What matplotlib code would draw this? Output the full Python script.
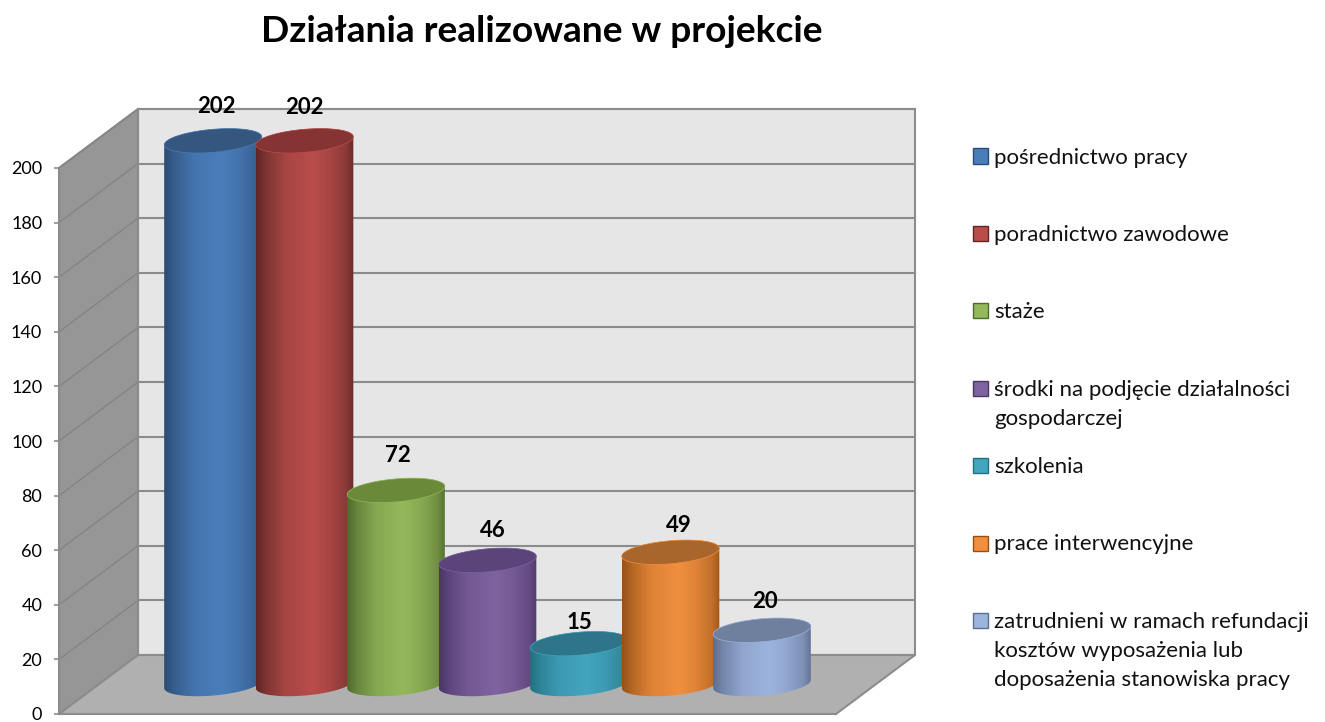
import numpy as np
import matplotlib
matplotlib.use('Agg')
import matplotlib.pyplot as plt
from matplotlib.colors import to_rgb
from matplotlib.patches import Polygon, Rectangle
from matplotlib.transforms import ScaledTranslation

plt.rcParams['font.family'] = ['Lato', 'DejaVu Sans']

# data
title = 'Działania realizowane w projekcie'
categories = ['pośrednictwo pracy', 'poradnictwo zawodowe', 'staże',
              'środki na podjęcie działalności\ngospodarczej', 'szkolenia',
              'prace interwencyjne',
              'zatrudnieni w ramach refundacji\nkosztów wyposażenia lub\ndoposażenia stanowiska pracy']
values = [202, 202, 72, 46, 15, 49, 20]
y_ticks = list(range(0, 201, 20))

# colours: centre of the cylinder, its dark edge, its top
body_colors = ['#4A7EBB', '#B84D4A', '#94B85A', '#7F62A0', '#43A5C0', '#F08F3F', '#9DB4DE']
edge_colors = ['#2B4B72', '#5F2625', '#4F6A2C', '#4A3566', '#22707F', '#965015', '#5D6D8E']
top_colors = ['#35577F', '#853433', '#6A8A3A', '#5B447A', '#2E7589', '#A8662C', '#6F7F9E']

# label nudges in pixels (x, y above the top of the cylinder)
label_dx = [3, 0, 2, 5, 0, 8, 3]
label_dy = [34, 33, 35, 30, 21, 27, 29]

W, H = 1325, 722
PX_X = 91.5    # pixels per category
PX_Y = 2.73    # pixels per value unit
X0 = 171.5     # pixel of x=0 on the front plane
Y0 = 714       # pixel of value 0 on the front plane
DEPTH_X = 79 / PX_X
DEPTH_Y = 59 / PX_Y
X_LEFT = (59 - X0) / PX_X
X_RIGHT = (836 - X0) / PX_X
Y_TOP = 200

fig = plt.figure(figsize=(W / 100, H / 100), dpi=100, facecolor='white')
ax = fig.add_axes([59 / W, 0, (W - 59) / W, 1])
ax.set_xlim(X_LEFT, (W - X0) / PX_X)
ax.set_ylim(-(H - Y0) / PX_Y, Y0 / PX_Y)
ax.patch.set_visible(False)


def deep(x, v, d):
    return x + d * DEPTH_X, v + d * DEPTH_Y


# walls and floor
grid_c = '#8C8C8C'
ax.add_patch(Polygon([deep(X_LEFT, 0, 1), deep(X_RIGHT, 0, 1), deep(X_RIGHT, Y_TOP, 1), deep(X_LEFT, Y_TOP, 1)],
                     fc='#E6E6E6', ec=grid_c, lw=1.5, zorder=1))
ax.add_patch(Polygon([deep(X_LEFT, 0, 0), deep(X_LEFT, 0, 1), deep(X_LEFT, Y_TOP, 1), deep(X_LEFT, Y_TOP, 0)],
                     fc='#969696', ec=grid_c, lw=1.5, zorder=1))
ax.add_patch(Polygon([deep(X_LEFT, 0, 0), deep(X_RIGHT, 0, 0), deep(X_RIGHT, 0, 1), deep(X_LEFT, 0, 1)],
                     fc='#B0B0B0', ec='none', zorder=1))
for v in y_ticks[1:]:
    a = deep(X_LEFT, v, 0)
    b = deep(X_LEFT, v, 1)
    c = deep(X_RIGHT, v, 1)
    ax.plot([a[0], b[0]], [a[1], b[1]], color='#858585', lw=1.1, zorder=2)
    ax.plot([b[0], c[0]], [b[1], c[1]], color=grid_c, lw=1.5, zorder=2)
a = deep(X_LEFT, 0, 0)
b = deep(X_LEFT, 0, 1)
c = deep(X_RIGHT, 0, 1)
d = deep(X_RIGHT, 0, 0)
ax.plot([a[0], b[0], c[0], d[0]], [a[1], b[1], c[1], d[1]], color=grid_c, lw=1.5, zorder=2)

# cylinders
R_X, R_Y = 49, 11.5
TILT = np.radians(5)
BASE_D = 31 / 59
BASE_DROP = 1 / PX_Y
CYL_SCALE = 0.985
shade_pos = [0, 0.1, 0.3, 0.58, 0.75, 0.92, 1]
shade_val = [0.0, 0.35, 0.8, 1.0, 0.82, 0.5, 0.12]


def arc(xc, v, t0, t1):
    t = np.linspace(t0, t1, 60)
    px = R_X * np.cos(t) * np.cos(TILT) - R_Y * np.sin(t) * np.sin(TILT)
    py = R_X * np.cos(t) * np.sin(TILT) + R_Y * np.sin(t) * np.cos(TILT)
    return np.column_stack([xc + px / PX_X, v + py / PX_Y])


for i, val in enumerate(values):
    xc, base = deep(i, 0, BASE_D)
    base -= BASE_DROP
    top = base + val * CYL_SCALE
    z = 3 + i
    outline = np.vstack([arc(xc, base, np.pi, 2 * np.pi), arc(xc, top, 0, np.pi)])
    clip = Polygon(outline, closed=True, transform=ax.transData, fc='none', ec='none')
    ax.add_patch(clip)

    xs = np.linspace(0, 1, 200)
    s = np.interp(xs, shade_pos, shade_val)[None, :, None]
    grad = np.array(to_rgb(edge_colors[i]))[None, None, :] * (1 - s) + np.array(to_rgb(body_colors[i]))[None, None, :] * s
    im = ax.imshow(grad, extent=[xc - R_X / PX_X, xc + R_X / PX_X, base - 30 / PX_Y, top + 30 / PX_Y],
                   aspect='auto', zorder=z, interpolation='bilinear')
    im.set_clip_path(clip)
    ax.add_patch(Polygon(arc(xc, top, 0, 2 * np.pi), closed=True, fc=top_colors[i],
                         ec=body_colors[i], lw=0.5, zorder=z + 0.5))

    ax.text(xc + label_dx[i] / PX_X, top + label_dy[i] / PX_Y, str(val), ha='center', va='center',
            fontsize=16, fontweight='bold', color='black', zorder=20)

ax.set_xlim(X_LEFT, (W - X0) / PX_X)
ax.set_ylim(-(H - Y0) / PX_Y, Y0 / PX_Y)

# axes
ax.set_xticks([])
ax.set_yticks(y_ticks)
ax.tick_params(axis='y', length=3.6, width=1.2, color=grid_c, pad=8.5, labelsize=13, labelcolor='black')
for name in ['top', 'right']:
    ax.spines[name].set_visible(False)
ax.spines['left'].set_bounds(0, 200)
ax.spines['left'].set_color(grid_c)
ax.spines['left'].set_linewidth(1.5)
ax.spines['bottom'].set_position(('data', 0))
ax.spines['bottom'].set_bounds(X_LEFT, X_RIGHT)
ax.spines['bottom'].set_color(grid_c)
ax.spines['bottom'].set_linewidth(1.5)

# title and legend go in pixel coordinates of the figure
fig.text(542 / W, 1 - 32 / H, title, ha='center', va='center', fontsize=26.7, fontweight='bold', color='black')

LEG_Y0 = 156
LEG_STEP = 77.4
for i, name in enumerate(categories):
    y = LEG_Y0 + i * LEG_STEP
    fig.add_artist(Rectangle((973 / W, 1 - (y + 7.5) / H), 15 / W, 15 / H, transform=fig.transFigure,
                             fc=body_colors[i], ec=edge_colors[i], lw=1))
    fig.text(994 / W, 1 - (y - 8.5) / H, name, ha='left', va='top', fontsize=16, color='#111111', linespacing=1.58)

fig.savefig('out.png', dpi=100)
